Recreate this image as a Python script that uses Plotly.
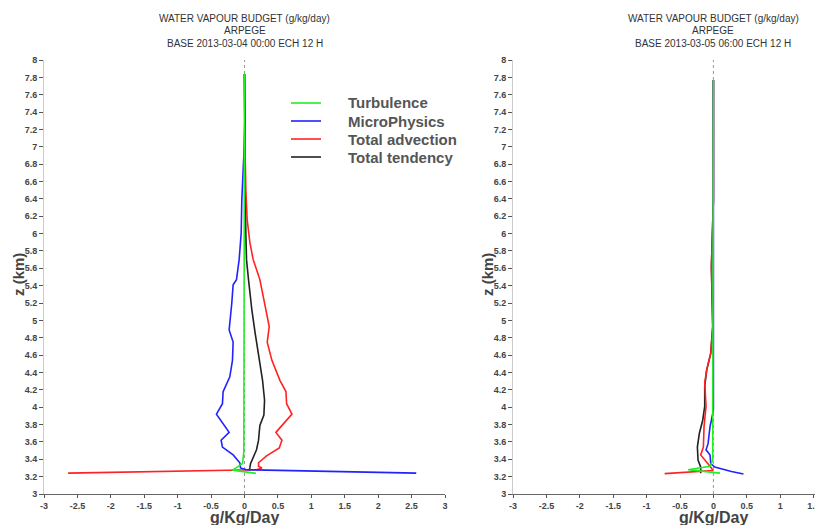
import plotly.graph_objects as go

# ---------------- data: left panel (BASE 2013-03-04 00:00) ----------------
L_turb_z = [7.84, 7.0, 6.0, 5.0, 4.5, 4.0, 3.6, 3.49, 3.35, 3.275, 3.238]
L_turb_v = [0.0, 0.0, 0.0, 0.0, -0.003, -0.005, -0.01, -0.01, -0.03, -0.18, 0.17]

L_micro_z = [7.84, 7.3, 6.9, 6.39, 6.0, 5.70, 5.47, 5.41, 5.20, 4.89, 4.75, 4.54, 4.35, 4.18,
             4.04, 3.92, 3.71, 3.62, 3.54, 3.45, 3.36, 3.30, 3.28, 3.24]
L_micro_v = [0.0, 0.005, -0.01, -0.04, -0.05, -0.08, -0.12, -0.17, -0.19, -0.23, -0.17, -0.18, -0.22, -0.32,
             -0.33, -0.42, -0.23, -0.35, -0.33, -0.17, -0.07, -0.06, 0.03, 2.57]

L_adv_z = [7.84, 7.3, 6.9, 6.5, 6.16, 5.9, 5.70, 5.47, 5.12, 4.93, 4.75, 4.54, 4.31, 4.18,
           4.04, 3.92, 3.71, 3.62, 3.53, 3.44, 3.36, 3.32, 3.30, 3.28, 3.24]
L_adv_v = [0.0, 0.0, 0.01, 0.02, 0.04, 0.08, 0.13, 0.23, 0.32, 0.37, 0.34, 0.41, 0.53, 0.62,
           0.63, 0.71, 0.47, 0.56, 0.52, 0.33, 0.21, 0.21, 0.26, 0.18, -2.64]

L_tend_z = [7.84, 7.0, 6.5, 6.0, 5.70, 5.47, 5.12, 4.85, 4.54, 4.31, 4.08, 3.91, 3.79, 3.62,
            3.51, 3.43, 3.35, 3.30, 3.27]
L_tend_v = [0.0, 0.0, 0.01, 0.02, 0.03, 0.06, 0.11, 0.16, 0.22, 0.27, 0.30, 0.29, 0.23, 0.21,
            0.18, 0.13, 0.09, 0.08, 0.07]

# ---------------- data: right panel (BASE 2013-03-05 06:00) ----------------
R_turb_z = [7.77, 7.0, 6.0, 5.0, 4.0, 3.47, 3.39, 3.32, 3.28, 3.24]
R_turb_v = [0.0, 0.0, 0.0, 0.0, 0.0, 0.0, -0.01, -0.05, -0.38, 0.10]

R_micro_z = [7.77, 7.0, 6.0, 5.0, 4.24, 3.97, 3.85, 3.78, 3.58, 3.51, 3.45, 3.35, 3.31, 3.27,
             3.26, 3.23]
R_micro_v = [0.0, 0.0, 0.005, 0.01, 0.01, 0.0, -0.03, -0.05, -0.08, -0.11, -0.05, -0.04, 0.02, 0.20,
             0.27, 0.45]

R_adv_z = [7.77, 7.0, 6.39, 5.62, 4.93, 4.62, 4.43, 4.28, 4.01, 3.78, 3.62, 3.54, 3.45, 3.37,
           3.30, 3.27, 3.235]
R_adv_v = [0.0, 0.0, 0.0, -0.03, -0.01, -0.04, -0.10, -0.13, -0.11, -0.14, -0.15, -0.15, -0.19, -0.10,
           -0.03, -0.01, -0.73]

R_tend_z = [7.77, 7.0, 6.39, 5.62, 4.93, 4.62, 4.43, 4.24, 4.01, 3.85, 3.70, 3.54, 3.39, 3.31, 3.24]
R_tend_v = [0.0, 0.0, 0.0, -0.03, -0.01, -0.04, -0.10, -0.13, -0.13, -0.16, -0.21, -0.24, -0.23, -0.19, -0.19]

series_names = ["Turbulence", "MicroPhysics", "Total advection", "Total tendency"]
series_colors = ["#22ee22", "#2222ff", "#ff2222", "#222222"]

titles_left = ["WATER VAPOUR BUDGET (g/kg/day)", "ARPEGE", "BASE 2013-03-04 00:00 ECH 12 H"]
titles_right = ["WATER VAPOUR BUDGET (g/kg/day)", "ARPEGE", "BASE 2013-03-05 06:00 ECH 12 H"]

y_ticks = [round(3 + 0.2 * i, 1) for i in range(26)]
y_tick_text = [("%g" % v) for v in y_ticks]
x_ticks = [-3 + 0.5 * i for i in range(13)]
x_tick_text = [("%g" % v) for v in x_ticks]

# ---------------- layout geometry (window pixels; page body has an 8px margin) ----------------
OFF = 8
W, H = 823 - OFF, 525 - OFF
PL, PR, PT, PB = 44, 822, 60, 494          # plot box in window pixels
ML, MR, MT, MB = PL - OFF, (W + OFF) - PR, PT - OFF, (H + OFF) - PB
PW = PR - PL
PH = PB - PT


def px(xp):
    return (xp - PL) / PW


def py(yp):
    return (PB - yp) / PH


left_dom = [0.0, px(445)]
right_dom = [px(513), 1.0]

fig = go.Figure()

left = [(L_turb_z, L_turb_v), (L_micro_z, L_micro_v), (L_adv_z, L_adv_v), (L_tend_z, L_tend_v)]
right = [(R_turb_z, R_turb_v), (R_micro_z, R_micro_v), (R_adv_z, R_adv_v), (R_tend_z, R_tend_v)]

order = [3, 2, 1, 0]  # draw tendency first, turbulence on top
for i in order:
    z, v = left[i]
    fig.add_trace(go.Scatter(x=v, y=z, mode="lines", name=series_names[i], xaxis="x", yaxis="y",
                             line=dict(color=series_colors[i], width=1.6), showlegend=False))
for i in order:
    z, v = right[i]
    fig.add_trace(go.Scatter(x=v, y=z, mode="lines", name=series_names[i], xaxis="x2", yaxis="y2",
                             line=dict(color=series_colors[i], width=1.6), showlegend=False))

tickfont = dict(family="Liberation Sans", size=9, color="#444444", weight="bold")

common_x = dict(tickmode="array", tickvals=x_ticks, ticktext=x_tick_text, tickfont=tickfont,
                showgrid=False, zeroline=False, showline=True, linecolor="#666666", linewidth=1,
                ticks="outside", ticklen=3, tickcolor="#555555", automargin=False)
common_y = dict(tickmode="array", tickvals=y_ticks, ticktext=y_tick_text, tickfont=tickfont,
                showgrid=False, zeroline=False, showline=True, linecolor="#cccccc", linewidth=1,
                ticks="outside", ticklen=4, tickcolor="#555555", range=[3, 8], automargin=False)

fig.update_layout(
    width=W, height=H,
    margin=dict(l=ML, r=MR, t=MT, b=MB, pad=0),
    paper_bgcolor="white", plot_bgcolor="white",
    showlegend=False,
    xaxis=dict(common_x, domain=left_dom, range=[-3, 3], anchor="y"),
    yaxis=dict(common_y, domain=[0, 1], anchor="x"),
    xaxis2=dict(common_x, domain=right_dom, range=[-3, (PR - 513) / 66.8 - 3], anchor="y2"),
    yaxis2=dict(common_y, domain=[0, 1], anchor="x2"),
)

# zero dotted lines
for xr in ["x", "x2"]:
    fig.add_shape(type="line", xref=xr, yref="paper", x0=0, x1=0, y0=0, y1=1,
                  line=dict(color="#999999", width=1, dash="dot"), layer="below")

# titles
title_font = dict(family="Liberation Sans", size=10, color="#333333")
for txts, xr in [(titles_left, "x"), (titles_right, "x2")]:
    for t, yp in zip(txts, [18, 30.5, 43]):
        fig.add_annotation(text=t, xref=xr, x=0, yref="paper", y=py(yp), showarrow=False,
                           xanchor="center", yanchor="middle", font=title_font)

# axis titles
axis_font = dict(family="Liberation Sans", size=16, color="#444444", weight="bold")
for xr in ["x", "x2"]:
    fig.add_annotation(text="g/Kg/Day", xref=xr, x=0, yref="paper", y=py(517), showarrow=False,
                       xanchor="center", yanchor="middle", font=axis_font, borderpad=0)
zfont = dict(family="Liberation Sans", size=15, color="#444444", weight="bold")
for xp in [18, 487]:
    fig.add_annotation(text="z (km)", xref="paper", x=px(xp), yref="paper", y=py(275), showarrow=False,
                       xanchor="center", yanchor="middle", textangle=-90, font=zfont)

# legend (drawn manually)
leg_font = dict(family="Liberation Sans", size=15, color="#555555", weight="bold")
for i, (name, col) in enumerate(zip(series_names, series_colors)):
    yp = 103 + 18 * i
    fig.add_shape(type="line", xref="paper", yref="paper", x0=px(291), x1=px(321), y0=py(yp), y1=py(yp),
                  line=dict(color=col, width=1.6))
    fig.add_annotation(text=name, xref="paper", x=px(346), yref="paper", y=py(yp), showarrow=False,
                       xanchor="left", yanchor="middle", font=leg_font)

fig.write_html("out.html")
